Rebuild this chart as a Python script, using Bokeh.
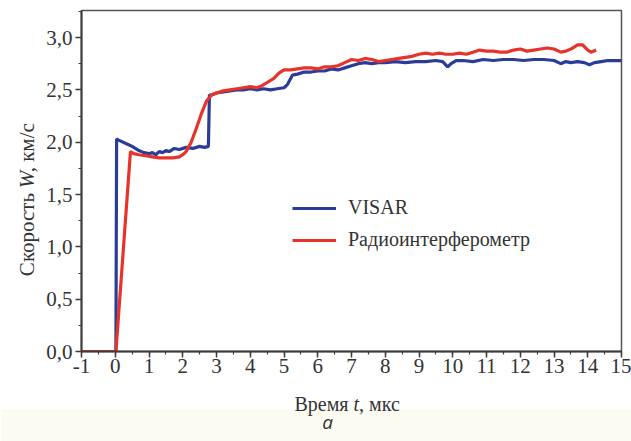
import math
from bokeh.plotting import figure
from bokeh.layouts import column, row
from bokeh.models import (Range1d, SingleIntervalTicker, CustomJSTickFormatter,
                          Legend, LegendItem)
from bokeh.core.properties import value
from bokeh.embed import file_html
from bokeh.resources import INLINE

# VISAR velocity trace (time in microseconds, velocity in km/s)
visar_t = [-1.0, 0.0, 0.02, 0.04, 0.1, 0.3, 0.5, 0.7, 0.85, 1.0, 1.1, 1.2, 1.3, 1.4,
           1.5, 1.6, 1.75, 1.9, 2.1, 2.3, 2.5, 2.65, 2.76, 2.79, 2.85, 3.0, 3.2, 3.4,
           3.6, 3.8, 4.0, 4.2, 4.4, 4.6, 4.8, 5.0, 5.1, 5.25, 5.4, 5.6, 5.8, 6.0, 6.2,
           6.4, 6.6, 6.8, 7.0, 7.2, 7.4, 7.6, 7.8, 8.0, 8.3, 8.6, 8.9, 9.2, 9.5, 9.7,
           9.85, 9.95, 10.1, 10.3, 10.6, 10.9, 11.2, 11.5, 11.8, 12.1, 12.4, 12.7,
           13.0, 13.2, 13.35, 13.5, 13.7, 13.9, 14.05, 14.2, 14.4, 14.6, 14.8, 15.0]
visar_w = [0.0, 0.0, 0.0, 2.03, 2.02, 1.99, 1.96, 1.92, 1.90, 1.89, 1.90, 1.88, 1.91,
           1.90, 1.92, 1.91, 1.94, 1.93, 1.95, 1.94, 1.96, 1.95, 1.96, 2.45, 2.45,
           2.47, 2.48, 2.49, 2.50, 2.50, 2.51, 2.50, 2.51, 2.50, 2.51, 2.52, 2.55,
           2.64, 2.65, 2.67, 2.67, 2.68, 2.68, 2.70, 2.69, 2.71, 2.73, 2.75, 2.76,
           2.75, 2.76, 2.76, 2.77, 2.76, 2.77, 2.77, 2.78, 2.77, 2.72, 2.75, 2.78,
           2.78, 2.77, 2.79, 2.78, 2.79, 2.79, 2.78, 2.79, 2.79, 2.78, 2.75, 2.77,
           2.76, 2.77, 2.76, 2.74, 2.76, 2.77, 2.78, 2.78, 2.78]

# Radio-interferometer velocity trace
radio_t = [-1.0, 0.02, 0.45, 0.55, 0.7, 0.9, 1.1, 1.3, 1.5, 1.7, 1.9, 2.0, 2.1, 2.25,
           2.4, 2.55, 2.7, 2.85, 3.0, 3.2, 3.4, 3.6, 3.8, 4.0, 4.2, 4.35, 4.5, 4.7,
           4.85, 5.0, 5.2, 5.4, 5.6, 5.8, 6.0, 6.2, 6.4, 6.6, 6.8, 7.0, 7.2, 7.4, 7.6,
           7.8, 8.0, 8.2, 8.4, 8.6, 8.8, 9.0, 9.2, 9.4, 9.6, 9.8, 10.0, 10.2, 10.4,
           10.6, 10.8, 11.0, 11.2, 11.4, 11.6, 11.8, 12.0, 12.2, 12.4, 12.6, 12.8,
           13.0, 13.2, 13.35, 13.5, 13.7, 13.85, 14.0, 14.1, 14.25]
radio_w = [0.0, 0.0, 1.91, 1.89, 1.88, 1.87, 1.86, 1.85, 1.85, 1.85, 1.86, 1.88, 1.91,
           2.00, 2.13, 2.27, 2.39, 2.45, 2.47, 2.49, 2.50, 2.51, 2.52, 2.53, 2.52,
           2.54, 2.57, 2.61, 2.66, 2.69, 2.69, 2.70, 2.71, 2.71, 2.70, 2.72, 2.72,
           2.73, 2.76, 2.79, 2.78, 2.80, 2.79, 2.77, 2.78, 2.79, 2.80, 2.81, 2.82,
           2.84, 2.85, 2.84, 2.85, 2.84, 2.84, 2.85, 2.84, 2.86, 2.88, 2.87, 2.87,
           2.86, 2.86, 2.88, 2.89, 2.87, 2.88, 2.89, 2.90, 2.89, 2.86, 2.87, 2.89,
           2.93, 2.93, 2.88, 2.86, 2.88]

series_names = ["VISAR", "Радиоинтерферометр"]
series_colors = ["#2b3c98", "#e8332b"]

SERIF = "Liberation Serif"
TXT = "#333333"
AXIS = "#3c3c3c"
W_TOTAL = 631
LEFT_W = 40      # strip holding the vertical axis title
MAIN_H = 380
BOTTOM_H = 61    # strip holding the horizontal axis title and caption

# ---- main chart ----
p = figure(width=W_TOTAL - LEFT_W, height=MAIN_H, output_backend="svg",
           toolbar_location=None,
           x_range=Range1d(-1, 15), y_range=Range1d(0, 3.258),
           min_border_left=41, min_border_right=10, min_border_top=10,
           min_border_bottom=29)
p.grid.visible = False
p.outline_line_color = "#555555"
p.outline_line_width = 1.5

p.xaxis.ticker = SingleIntervalTicker(interval=1, num_minor_ticks=2)
p.yaxis.ticker = SingleIntervalTicker(interval=0.5, num_minor_ticks=2)
p.xaxis.formatter = CustomJSTickFormatter(code="return tick.toFixed(0);")
p.yaxis.formatter = CustomJSTickFormatter(code="return tick.toFixed(1).replace('.', ',');")

p.axis.axis_line_color = AXIS
p.axis.axis_line_width = 2
p.axis.major_tick_line_color = AXIS
p.axis.minor_tick_line_color = AXIS
p.axis.major_tick_line_width = 1.5
p.axis.minor_tick_line_width = 1.2
p.axis.major_tick_in = 0
p.axis.major_tick_out = 6
p.axis.minor_tick_in = 0
p.axis.minor_tick_out = 3
p.axis.major_label_text_font = SERIF
p.axis.major_label_text_font_size = "21px"
p.axis.major_label_text_color = TXT
p.xaxis.major_label_standoff = 1
p.yaxis.major_label_standoff = 3

r_visar = p.line(visar_t, visar_w, line_color=series_colors[0], line_width=3.2)
r_radio = p.line(radio_t, radio_w, line_color=series_colors[1], line_width=3.2)

legend = Legend(items=[LegendItem(label=series_names[0], renderers=[r_visar]),
                       LegendItem(label=series_names[1], renderers=[r_radio])],
                location=(211, 100), border_line_alpha=0, background_fill_alpha=0,
                padding=0, margin=0, spacing=9, glyph_width=44, glyph_height=20,
                label_height=20, label_standoff=12,
                label_text_font=SERIF, label_text_font_size="20px",
                label_text_color=TXT)
p.add_layout(legend, "center")

# ---- vertical axis title (with italic W) ----
left = figure(width=LEFT_W, height=MAIN_H, output_backend="svg",
              toolbar_location=None, x_axis_type=None, y_axis_type=None,
              x_range=Range1d(0, LEFT_W), y_range=Range1d(MAIN_H, 0),
              min_border=0, outline_line_color=None)
left.grid.visible = False
fs_y = 21
yw = 198          # where the italic W starts
ang = math.pi / 2
ytxt = dict(text_font=value(SERIF), text_color=TXT, text_baseline="alphabetic",
            angle=ang, text_font_size=f"{fs_y}px")
left.text(x=[26], y=[yw + 0.25 * fs_y], text=["Скорость"], text_align="right", **ytxt)
left.text(x=[26], y=[yw], text=["W"], text_align="left", text_font_style="italic", **ytxt)
left.text(x=[26], y=[yw - 0.84 * fs_y], text=[", км/с"], text_align="left", **ytxt)

# ---- horizontal axis title (with italic t) and caption strip ----
bottom = figure(width=W_TOTAL, height=BOTTOM_H, output_backend="svg",
                toolbar_location=None, x_axis_type=None, y_axis_type=None,
                x_range=Range1d(0, W_TOTAL),
                y_range=Range1d(MAIN_H + BOTTOM_H, MAIN_H),
                min_border=0, outline_line_color=None)
bottom.grid.visible = False
bottom.quad(left=[0], right=[W_TOTAL], top=[409], bottom=[MAIN_H + BOTTOM_H],
            fill_color="#fcfbf1", line_color=None)
fs_x = 20
x0 = 353          # where the italic t starts
xtxt = dict(text_font=value(SERIF), text_color=TXT, text_baseline="alphabetic",
            text_font_size=f"{fs_x}px")
bottom.text(x=[x0 - 0.25 * fs_x], y=[403], text=["Время"], text_align="right", **xtxt)
bottom.text(x=[x0], y=[403], text=["t"], text_align="left", text_font_style="italic", **xtxt)
bottom.text(x=[x0 + 0.28 * fs_x], y=[403], text=[", мкс"], text_align="left", **xtxt)
bottom.text(x=[327], y=[421], text=["а"], text_font=value("Open Sans"),
            text_font_style="italic", text_font_size="19px", text_color=TXT,
            text_align="center", text_baseline="middle")

layout = column(row(left, p, spacing=0), bottom, spacing=0)
open("out.html", "w").write(file_html(layout, INLINE))
